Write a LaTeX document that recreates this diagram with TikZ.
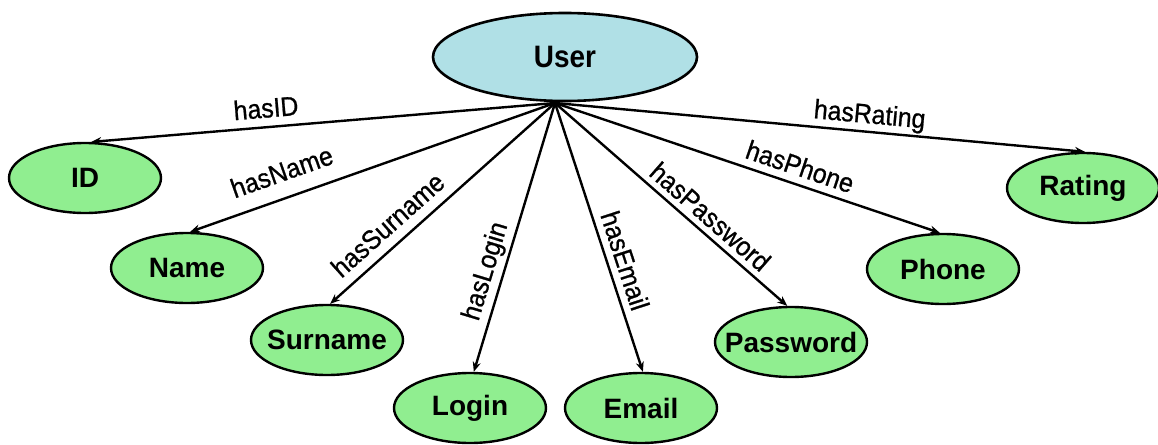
\documentclass[tikz,border=0pt]{standalone}
\usepackage{fontspec}
\setmainfont{Liberation Sans}
\newfontfamily\classfont{Liberation Sans}[FakeStretch=0.9]
\newfontfamily\relfont{Liberation Sans}[FakeStretch=0.92,FakeBold=0.8]
\usetikzlibrary{arrows.meta,shapes.geometric}
\definecolor{userfill}{HTML}{B0E0E6}
\definecolor{attrfill}{HTML}{90EE90}

\begin{document}
\begin{tikzpicture}[x=1pt,y=-1pt,
  entity/.style={ellipse, draw=black, line width=2.6pt, fill=userfill,
    minimum width=264pt, minimum height=88pt, inner sep=0pt,
    font=\fontsize{31}{31}\classfont\bfseries},
  attr/.style={ellipse, draw=black, line width=2.4pt, fill=attrfill,
    minimum width=152pt, minimum height=70pt, inner ysep=0pt, inner xsep=-25pt,
    font=\fontsize{28}{28}\selectfont\bfseries},
  rel/.style={draw=black, line width=2.4pt, -{Stealth[length=10pt,width=8pt]}},
  lbl/.style={sloped, font=\fontsize{27}{27}\relfont, inner sep=0pt,
    text height=20pt, text depth=5.4pt}]
\useasboundingbox (0,0) rectangle (1158,444);

% class and its properties
\node[entity] (user) at (565,57) {User};
\node[attr] (id)       at (85,178)   {ID};
\node[attr] (name)     at (187,268)  {Name};
\node[attr] (surname)  at (327,340)  {Surname};
\node[attr] (login)    at (470,408)  {Login};
\node[attr] (email)    at (641,408)  {Email};
\node[attr] (password) at (791,342)  {Password};
\node[attr] (phone)    at (943,269)  {Phone};
\node[attr] (rating)   at (1083,188) {Rating};

% all relations leave from one point under the class
\coordinate (fan) at (555,103);

\draw[rel] (fan) -- node[lbl, pos=0.62, above=3pt] {hasID} (id.80);
\draw[rel] (fan) -- node[lbl, pos=0.725, above=10pt] {hasName} (name.85);
\draw[rel] (fan) -- node[lbl, pos=0.683, above=4.5pt] {hasSurname} (surname.85);
\draw[rel] (fan) -- node[lbl, pos=0.645, above=3.5pt] {hasLogin} (login.84);
\draw[rel] (fan) -- node[lbl, pos=0.607, above=1.5pt] {hasEmail} (email.87);
\draw[rel] (fan) -- node[lbl, pos=0.622, above=0.5pt] {hasPassword} (password.96);
\draw[rel] (fan) -- node[lbl, pos=0.622, above=2pt] {hasPhone} (phone.95);
\draw[rel] (fan) -- node[lbl, pos=0.591, above=2pt] {hasRating} (rating.87);
\end{tikzpicture}
\end{document}
